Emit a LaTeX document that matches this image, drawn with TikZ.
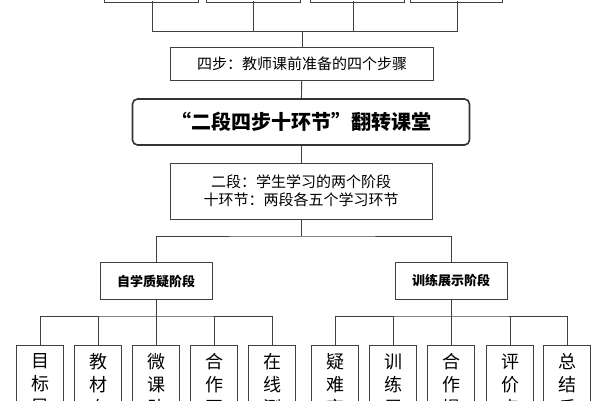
\documentclass[tikz,border=0pt]{standalone}
\usepackage{fontspec}
\setmainfont{Noto Sans CJK SC}
\begin{document}
\begin{tikzpicture}[x=1pt,y=-1pt,
  bx/.style={draw=black!75,line width=0.9pt,inner sep=0pt,align=center,font=\fontsize{15}{19}\selectfont},
  ln/.style={draw=black!75,line width=0.9pt}]
\useasboundingbox (0,0) rectangle (600,400);
\clip (0,0) rectangle (600,400);
\foreach \a/\b/\n in {104/198/t1,206/300/t2,310/404/t3,410/502/t4}{
  \node[bx,minimum width={(\b-\a)*1pt},minimum height=30pt] (\n) at ({(\a+\b)/2},-13) {};}
\coordinate (h1) at (152,31);\coordinate (h2) at (253,31);
\coordinate (h3) at (353,31);\coordinate (h4) at (457,31);
\draw[ln] (152,1) -- (h1) -- (h4) -- (457,1);
\draw[ln] (253,1) -- (h2); \draw[ln] (353,1) -- (h3);
\node[bx,minimum width=263pt,minimum height=33pt] (s) at (302,64) {四步：教师课前准备的四个步骤};
\node[bx,draw=black!80,line width=1.6pt,rounded corners=5pt,minimum width=337pt,minimum height=46pt,font=\fontsize{20}{24}\selectfont\bfseries] (m) at (301,122) {“二段四步十环节”翻转课堂};
\node[bx,minimum width=262pt,minimum height=56pt,font=\fontsize{15}{18}\selectfont] (e) at (301,191) {二段：学生学习的两个阶段\\十环节：两段各五个学习环节};
\draw[ln] (302,31) -- (s.north);
\draw[ln] (s) -- (m); \draw[ln] (m) -- (e);
\node[bx,minimum width=112pt,minimum height=37pt,font=\fontsize{13}{16}\selectfont\bfseries] (A) at (156,281) {自学质疑阶段};
\node[bx,minimum width=112pt,minimum height=37pt,font=\fontsize{13}{16}\selectfont\bfseries] (B) at (451,281) {训练展示阶段};
\draw[ln] (e.south) -- (301,236);
\draw[ln] (A.north) |- (301,236) -| (B.north);
\foreach \x/\p/\q/\r in {40/目/标/导,98/教/材/自,156/微/课/助,214/合/作/互,272/在/线/测,335/疑/难/突,393/训/练/展,451/合/作/提,510/评/价/点,567/总/结/反}{
  \node[bx,minimum width=47pt,minimum height=90pt,anchor=north] (c\x) at (\x,345) {};
  \node[font=\fontsize{18}{23}\selectfont,align=center,anchor=north] at (\x,350) {\p\\\q\\\r};
}
\draw[ln] (A.south) -- (156,316);
\draw[ln] (c40.north) |- (156,316) -| (c272.north);
\draw[ln] (c98.north) -- (98,316); \draw[ln] (c156.north) -- (156,316); \draw[ln] (c214.north) -- (214,316);
\draw[ln] (B.south) -- (451,316);
\draw[ln] (c335.north) |- (451,316) -| (c567.north);
\draw[ln] (c393.north) -- (393,316); \draw[ln] (c451.north) -- (451,316); \draw[ln] (c510.north) -- (510,316);
\end{tikzpicture}
\end{document}
